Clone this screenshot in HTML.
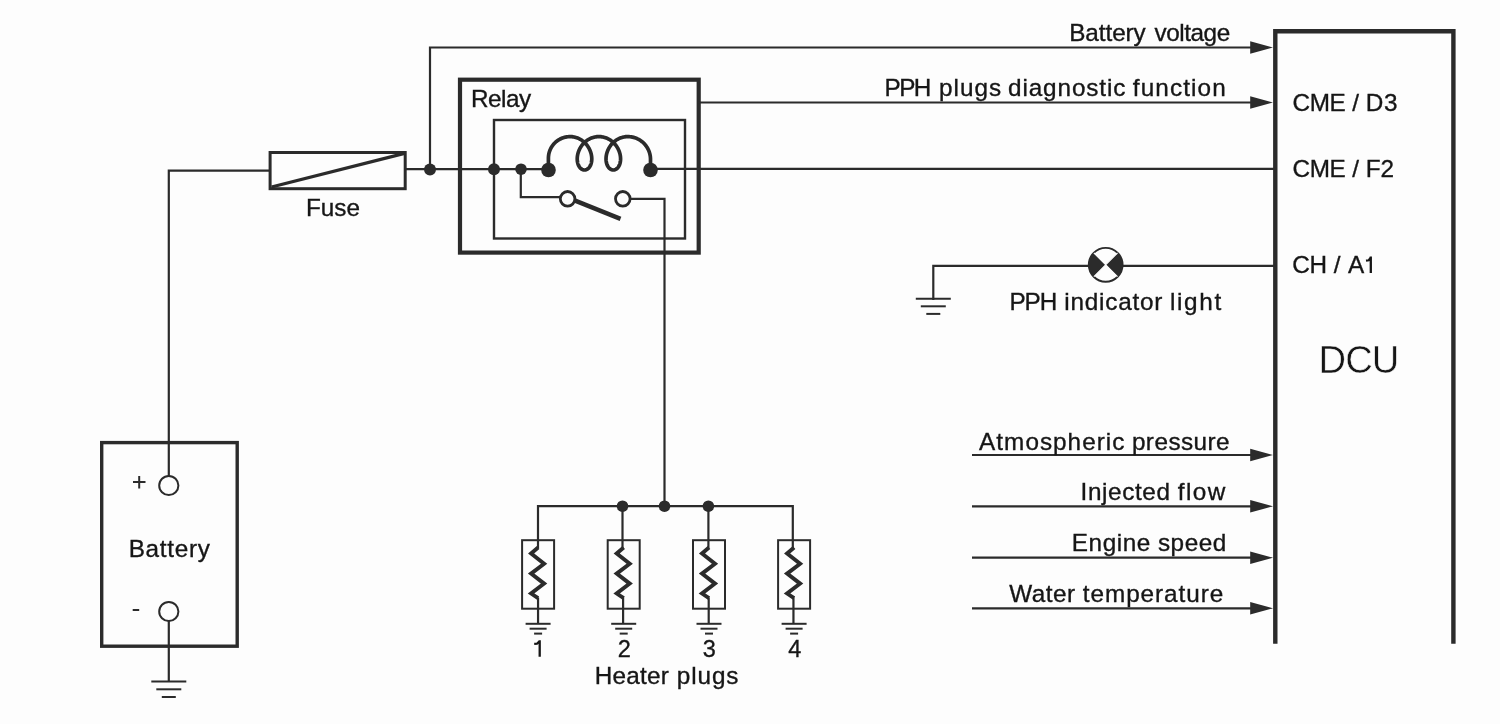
<!DOCTYPE html>
<html><head><meta charset="utf-8"><style>
html,body{margin:0;padding:0;background:#fdfdfd;}
svg{display:block;will-change:transform;}
text{font-family:"Liberation Sans",sans-serif;fill:#161616;stroke:#161616;stroke-width:0.35px;}
</style></head><body>
<svg width="1500" height="724" viewBox="0 0 1500 724">
<rect width="1500" height="724" fill="#fdfdfd"/>
<g stroke="#2b2b2b" stroke-linecap="butt">
<polyline points="168.80,476.00 168.80,170.60 270.00,170.60" fill="none" stroke-width="2.2" stroke-linejoin="miter"/>
<rect x="270.1" y="152.5" width="135.09999999999997" height="36.19999999999999" fill="none" stroke-width="3.0"/>
<line x1="271.5" y1="187.0" x2="404.5" y2="153.3" stroke-width="3.3"/>
<line x1="405.2" y1="169.2" x2="548.5" y2="169.2" stroke-width="2.2"/>
<polyline points="430.00,169.40 430.00,47.50 1251.00,47.50" fill="none" stroke-width="2.2" stroke-linejoin="miter"/>
<polygon points="1250.2,41.3 1273,47.5 1250.2,53.7" fill="#2b2b2b" stroke="none"/>
<circle cx="430" cy="169.4" r="6" fill="#2b2b2b" stroke="none"/>
<rect x="460" y="79.7" width="238.70000000000005" height="172.89999999999998" fill="none" stroke-width="4.2"/>
<rect x="494" y="120" width="191" height="118.5" fill="none" stroke-width="2.4"/>
<circle cx="494" cy="169.2" r="6.0" fill="#2b2b2b" stroke="none"/>
<circle cx="521" cy="169.2" r="5.8" fill="#2b2b2b" stroke="none"/>
<polyline points="520.80,169.00 520.80,197.20 560.00,197.20" fill="none" stroke-width="2.2" stroke-linejoin="miter"/>
<polyline points="630.00,198.80 664.50,198.80 664.50,506.00" fill="none" stroke-width="2.2" stroke-linejoin="miter"/>
<line x1="574.5" y1="200.4" x2="620.5" y2="218.8" stroke-width="4.5"/>
<circle cx="567.6" cy="198.8" r="7.3" fill="#fdfdfd" stroke-width="2.8"/>
<circle cx="622.8" cy="198.8" r="7.3" fill="#fdfdfd" stroke-width="2.8"/>
<path d="M548.40,170.00 L548.40,158.30 L548.43,157.16 L548.52,156.03 L548.67,154.90 L548.87,153.79 L549.14,152.68 L549.46,151.59 L549.84,150.52 L550.28,149.47 L550.77,148.45 L551.31,147.45 L551.90,146.48 L552.54,145.54 L553.24,144.64 L553.97,143.78 L554.76,142.96 L555.58,142.17 L556.44,141.44 L557.34,140.74 L558.28,140.10 L559.25,139.51 L560.25,138.97 L561.27,138.48 L562.32,138.04 L563.39,137.66 L564.48,137.34 L565.59,137.07 L566.70,136.87 L567.83,136.72 L568.96,136.63 L570.10,136.60 L571.06,136.62 L572.01,136.69 L572.96,136.81 L573.91,136.96 L574.84,137.17 L575.77,137.42 L576.69,137.71 L577.59,138.04 L578.48,138.42 L579.35,138.84 L580.20,139.29 L581.03,139.79 L581.84,140.32 L582.63,140.89 L583.39,141.49 L584.12,142.13 L584.83,142.79 L585.50,143.48 L586.15,144.20 L586.76,144.95 L587.35,145.72 L587.89,146.51 L588.41,147.32 L588.89,148.14 L589.33,148.98 L589.74,149.83 L590.11,150.69 L590.44,151.55 L590.74,152.43 L591.00,153.30 L591.22,154.17 L591.40,155.05 L591.55,155.91 L591.66,156.77 L591.73,157.62 L591.77,158.46 L591.77,159.28 L591.74,160.09 L591.67,160.88 L591.56,161.65 L591.43,162.40 L591.26,163.12 L591.07,163.81 L590.84,164.47 L590.59,165.11 L590.31,165.71 L590.00,166.28 L589.67,166.81 L589.32,167.31 L588.95,167.76 L588.56,168.18 L588.15,168.56 L587.73,168.89 L587.29,169.18 L586.85,169.43 L586.39,169.64 L585.92,169.79 L585.45,169.91 L584.98,169.98 L584.50,170.00 L584.02,169.98 L583.55,169.91 L583.08,169.79 L582.61,169.64 L582.15,169.43 L581.71,169.18 L581.27,168.89 L580.85,168.56 L580.44,168.18 L580.05,167.76 L579.68,167.31 L579.33,166.81 L579.00,166.28 L578.69,165.71 L578.41,165.11 L578.16,164.47 L577.93,163.81 L577.74,163.12 L577.57,162.40 L577.44,161.65 L577.33,160.88 L577.26,160.09 L577.23,159.28 L577.23,158.46 L577.27,157.62 L577.34,156.77 L577.45,155.91 L577.60,155.05 L577.78,154.17 L578.00,153.30 L578.26,152.43 L578.56,151.55 L578.89,150.69 L579.26,149.83 L579.67,148.98 L580.11,148.14 L580.59,147.32 L581.11,146.51 L581.65,145.72 L582.24,144.95 L582.85,144.20 L583.50,143.48 L584.17,142.79 L584.88,142.13 L585.61,141.49 L586.37,140.89 L587.16,140.32 L587.97,139.79 L588.80,139.29 L589.65,138.84 L590.52,138.42 L591.41,138.04 L592.31,137.71 L593.23,137.42 L594.16,137.17 L595.09,136.96 L596.04,136.81 L596.99,136.69 L597.94,136.62 L598.90,136.60 L599.86,136.62 L600.81,136.69 L601.76,136.81 L602.71,136.96 L603.65,137.17 L604.57,137.42 L605.49,137.71 L606.39,138.04 L607.28,138.42 L608.15,138.84 L609.00,139.29 L609.83,139.79 L610.64,140.32 L611.43,140.89 L612.19,141.49 L612.92,142.13 L613.63,142.79 L614.30,143.48 L614.95,144.20 L615.57,144.95 L616.15,145.72 L616.70,146.51 L617.21,147.32 L617.69,148.14 L618.13,148.98 L618.54,149.83 L618.91,150.69 L619.25,151.55 L619.54,152.43 L619.80,153.30 L620.02,154.17 L620.21,155.05 L620.35,155.91 L620.46,156.77 L620.53,157.62 L620.57,158.46 L620.57,159.28 L620.54,160.09 L620.47,160.88 L620.37,161.65 L620.23,162.40 L620.07,163.12 L619.87,163.81 L619.64,164.47 L619.39,165.11 L619.11,165.71 L618.80,166.28 L618.47,166.81 L618.12,167.31 L617.75,167.76 L617.36,168.18 L616.95,168.56 L616.53,168.89 L616.10,169.18 L615.65,169.43 L615.19,169.64 L614.73,169.79 L614.25,169.91 L613.78,169.98 L613.30,170.00 L612.83,169.98 L612.35,169.91 L611.88,169.79 L611.41,169.64 L610.96,169.43 L610.51,169.18 L610.07,168.89 L609.65,168.56 L609.24,168.18 L608.85,167.76 L608.48,167.31 L608.13,166.81 L607.80,166.28 L607.50,165.71 L607.22,165.11 L606.96,164.47 L606.74,163.81 L606.54,163.12 L606.37,162.40 L606.24,161.65 L606.14,160.88 L606.07,160.09 L606.03,159.28 L606.03,158.46 L606.07,157.62 L606.14,156.77 L606.25,155.91 L606.40,155.05 L606.58,154.17 L606.80,153.30 L607.06,152.43 L607.36,151.55 L607.69,150.69 L608.06,149.83 L608.47,148.98 L608.91,148.14 L609.39,147.32 L609.91,146.51 L610.46,145.72 L611.04,144.95 L611.65,144.20 L612.30,143.48 L612.98,142.79 L613.68,142.13 L614.42,141.49 L615.18,140.89 L615.96,140.32 L616.77,139.79 L617.60,139.29 L618.45,138.84 L619.32,138.42 L620.21,138.04 L621.11,137.71 L622.03,137.42 L622.96,137.17 L623.89,136.96 L624.84,136.81 L625.79,136.69 L626.75,136.62 L627.70,136.60 L628.90,136.63 L630.09,136.72 L631.27,136.88 L632.44,137.10 L633.60,137.38 L634.75,137.72 L635.87,138.11 L636.98,138.57 L638.05,139.08 L639.10,139.65 L640.12,140.28 L641.10,140.95 L642.05,141.68 L642.96,142.46 L643.82,143.28 L644.64,144.14 L645.42,145.05 L646.15,146.00 L646.82,146.98 L647.45,148.00 L648.02,149.05 L648.53,150.12 L648.99,151.23 L649.38,152.35 L649.72,153.50 L650.00,154.66 L650.22,155.83 L650.38,157.01 L650.47,158.20 L650.50,159.40 L650.50,170.00" fill="none" stroke-width="3.7" stroke-linejoin="round"/>
<circle cx="548.5" cy="170" r="7.3" fill="#2b2b2b" stroke="none"/>
<circle cx="650.5" cy="170" r="7.3" fill="#2b2b2b" stroke="none"/>
<line x1="650.5" y1="168.8" x2="1274" y2="168.8" stroke-width="2.2"/>
<line x1="698.7" y1="102.5" x2="1251" y2="102.5" stroke-width="2.2"/>
<polygon points="1250.2,96.3 1273,102.5 1250.2,108.7" fill="#2b2b2b" stroke="none"/>
<polyline points="1275.3,643.8 1275.3,31.3 1453.4,31.3 1453.4,643.8" fill="none" stroke-width="4.4"/>
<polyline points="933.30,300.00 933.30,265.80 1274.00,265.80" fill="none" stroke-width="2.2" stroke-linejoin="miter"/>
<line x1="915.8" y1="298.7" x2="950.8" y2="298.7" stroke-width="2"/>
<line x1="920.8" y1="306.3" x2="945.8" y2="306.3" stroke-width="2"/>
<line x1="926.3" y1="313.9" x2="940.3" y2="313.9" stroke-width="2"/>
<circle cx="1105.7" cy="264.8" r="16.9" fill="#fdfdfd" stroke-width="1.9"/>
<path d="M1105.7,264.8 L1093.89,252.99 A16.7,16.7 0 0 0 1093.89,276.61 Z M1105.7,264.8 L1117.51,252.99 A16.7,16.7 0 0 1 1117.51,276.61 Z" fill="#2b2b2b" stroke="none"/>
<path d="M1093.89,252.99 L1117.51,276.61 M1117.51,252.99 L1093.89,276.61" stroke="#fdfdfd" stroke-width="1.1"/>
<line x1="972" y1="455" x2="1251" y2="455" stroke-width="2.2"/>
<polygon points="1250.2,448.7 1273,455 1250.2,461.3" fill="#2b2b2b" stroke="none"/>
<line x1="972" y1="506.3" x2="1251" y2="506.3" stroke-width="2.2"/>
<polygon points="1250.2,500.0 1273,506.3 1250.2,512.6" fill="#2b2b2b" stroke="none"/>
<line x1="972" y1="557.7" x2="1251" y2="557.7" stroke-width="2.2"/>
<polygon points="1250.2,551.4000000000001 1273,557.7 1250.2,564.0" fill="#2b2b2b" stroke="none"/>
<line x1="972" y1="608.3" x2="1251" y2="608.3" stroke-width="2.2"/>
<polygon points="1250.2,602.0 1273,608.3 1250.2,614.5999999999999" fill="#2b2b2b" stroke="none"/>
<rect x="101.7" y="442.6" width="135.5" height="203.60000000000002" fill="none" stroke-width="3.4"/>
<circle cx="168.8" cy="485.5" r="9.6" fill="#fdfdfd" stroke-width="2.0"/>
<polyline points="168.80,621.00 168.80,681.60" fill="none" stroke-width="2.2" stroke-linejoin="miter"/>
<circle cx="168.8" cy="611.5" r="9.6" fill="#fdfdfd" stroke-width="2.0"/>
<line x1="151.3" y1="681.6" x2="186.3" y2="681.6" stroke-width="2"/>
<line x1="156.3" y1="689.3000000000001" x2="181.3" y2="689.3000000000001" stroke-width="2"/>
<line x1="161.8" y1="697.0" x2="175.8" y2="697.0" stroke-width="2"/>
<line x1="133" y1="482" x2="145.5" y2="482" stroke-width="2"/>
<line x1="139.2" y1="476" x2="139.2" y2="488.5" stroke-width="2"/>
<line x1="132.7" y1="610" x2="139.2" y2="610" stroke-width="2"/>
<polyline points="538.00,541.00 538.00,506.20 792.80,506.20 792.80,541.00" fill="none" stroke-width="2.2" stroke-linejoin="miter"/>
<rect x="522.1" y="540.2" width="32.0" height="68.5" fill="none" stroke-width="2.0"/>
<line x1="538.0" y1="540" x2="538.0" y2="548.5" stroke-width="2.2"/>
<polyline points="538.10,547.50 531.10,553.50 544.10,563.70 531.10,573.60 544.10,583.60 531.10,593.50 538.10,598.20" fill="none" stroke-width="3.9" stroke-linejoin="miter"/>
<line x1="538.05" y1="597.5" x2="538.05" y2="624" stroke-width="2.2"/>
<line x1="525.6" y1="623.8" x2="550.6" y2="623.8" stroke-width="2"/>
<line x1="529.6" y1="628.6999999999999" x2="546.6" y2="628.6999999999999" stroke-width="2"/>
<line x1="534.1" y1="633.5999999999999" x2="542.1" y2="633.5999999999999" stroke-width="2"/>
<line x1="622.5" y1="506.2" x2="622.5" y2="541" stroke-width="2.2"/>
<rect x="607.7" y="540.2" width="32.0" height="68.5" fill="none" stroke-width="2.0"/>
<line x1="622.5" y1="540" x2="622.5" y2="548.5" stroke-width="2.2"/>
<polyline points="623.70,547.50 616.70,553.50 629.70,563.70 616.70,573.60 629.70,583.60 616.70,593.50 623.70,598.20" fill="none" stroke-width="3.9" stroke-linejoin="miter"/>
<line x1="623.1" y1="597.5" x2="623.1" y2="624" stroke-width="2.2"/>
<line x1="611.2" y1="623.8" x2="636.2" y2="623.8" stroke-width="2"/>
<line x1="615.2" y1="628.6999999999999" x2="632.2" y2="628.6999999999999" stroke-width="2"/>
<line x1="619.7" y1="633.5999999999999" x2="627.7" y2="633.5999999999999" stroke-width="2"/>
<line x1="708.4" y1="506.2" x2="708.4" y2="541" stroke-width="2.2"/>
<rect x="693.0" y="540.2" width="32.0" height="68.5" fill="none" stroke-width="2.0"/>
<line x1="708.4" y1="540" x2="708.4" y2="548.5" stroke-width="2.2"/>
<polyline points="709.00,547.50 702.00,553.50 715.00,563.70 702.00,573.60 715.00,583.60 702.00,593.50 709.00,598.20" fill="none" stroke-width="3.9" stroke-linejoin="miter"/>
<line x1="708.7" y1="597.5" x2="708.7" y2="624" stroke-width="2.2"/>
<line x1="696.5" y1="623.8" x2="721.5" y2="623.8" stroke-width="2"/>
<line x1="700.5" y1="628.6999999999999" x2="717.5" y2="628.6999999999999" stroke-width="2"/>
<line x1="705.0" y1="633.5999999999999" x2="713.0" y2="633.5999999999999" stroke-width="2"/>
<rect x="778.1" y="540.2" width="32.0" height="68.5" fill="none" stroke-width="2.0"/>
<line x1="792.8" y1="540" x2="792.8" y2="548.5" stroke-width="2.2"/>
<polyline points="794.10,547.50 787.10,553.50 800.10,563.70 787.10,573.60 800.10,583.60 787.10,593.50 794.10,598.20" fill="none" stroke-width="3.9" stroke-linejoin="miter"/>
<line x1="793.45" y1="597.5" x2="793.45" y2="624" stroke-width="2.2"/>
<line x1="781.6" y1="623.8" x2="806.6" y2="623.8" stroke-width="2"/>
<line x1="785.6" y1="628.6999999999999" x2="802.6" y2="628.6999999999999" stroke-width="2"/>
<line x1="790.1" y1="633.5999999999999" x2="798.1" y2="633.5999999999999" stroke-width="2"/>
<path d="M534.2,643.9 L537.0,643.7 L539.7,641.0 M539.7,640.2 L539.7,656.8" fill="none" stroke="#161616" stroke-width="2.3"/>
<path d="M1366.0,260.7 L1368.7,260.3 L1370.8,257.3 M1370.8,256.4 L1370.8,272.9" fill="none" stroke="#161616" stroke-width="2.3"/>
<circle cx="622.5" cy="506.2" r="5.8" fill="#2b2b2b" stroke="none"/>
<circle cx="664.5" cy="506.2" r="5.8" fill="#2b2b2b" stroke="none"/>
<circle cx="708.4" cy="506.2" r="5.8" fill="#2b2b2b" stroke="none"/>
</g>
<g>
<text x="1069.2" y="41.3" font-size="24.3" textLength="76.58" lengthAdjust="spacing">Battery</text>
<text x="1154.6" y="41.3" font-size="24.3" textLength="75.56" lengthAdjust="spacing">voltage</text>
<text x="884.6" y="96" font-size="24.3" textLength="46.77" lengthAdjust="spacing">PPH</text>
<text x="939" y="96" font-size="24.3" textLength="62.09" lengthAdjust="spacing">plugs</text>
<text x="1008" y="96" font-size="24.3" textLength="117.42" lengthAdjust="spacing">diagnostic</text>
<text x="1132.8" y="96" font-size="24.3" textLength="92.91" lengthAdjust="spacing">function</text>
<text x="1292.4" y="111.1" font-size="24.3" textLength="53.4" lengthAdjust="spacing">CME</text>
<text x="1352.2" y="111.1" font-size="24.3" textLength="9.17" lengthAdjust="spacing">/</text>
<text x="1365.8" y="111.1" font-size="24.3" textLength="31.66" lengthAdjust="spacing">D3</text>
<text x="1292.4" y="176.8" font-size="24.3" textLength="53.4" lengthAdjust="spacing">CME</text>
<text x="1352.2" y="176.8" font-size="24.3" textLength="9.17" lengthAdjust="spacing">/</text>
<text x="1365.8" y="176.8" font-size="24.3" textLength="28.16" lengthAdjust="spacing">F2</text>
<text x="1292.3" y="273.3" font-size="24.3" textLength="34.69" lengthAdjust="spacing">CH</text>
<text x="1333.7" y="273.3" font-size="24.3" textLength="7.97" lengthAdjust="spacing">/</text>
<text x="1347.9" y="273.3" font-size="24.3" textLength="12.22" lengthAdjust="spacing">A</text>
<text x="1009.5" y="310.1" font-size="24.3" textLength="47.77" lengthAdjust="spacing">PPH</text>
<text x="1064.2" y="310.1" font-size="24.3" textLength="98.24" lengthAdjust="spacing">indicator</text>
<text x="1170" y="310.1" font-size="24.3" textLength="51.18" lengthAdjust="spacing">light</text>
<text x="979.1" y="449.5" font-size="24.3" textLength="145.25" lengthAdjust="spacing">Atmospheric</text>
<text x="1131.9" y="449.5" font-size="24.3" textLength="97.73" lengthAdjust="spacing">pressure</text>
<text x="1080.6" y="500.1" font-size="24.3" textLength="89.31" lengthAdjust="spacing">Injected</text>
<text x="1177.7" y="500.1" font-size="24.3" textLength="47.62" lengthAdjust="spacing">flow</text>
<text x="1071.8" y="550.9" font-size="24.3" textLength="78.46" lengthAdjust="spacing">Engine</text>
<text x="1157.9" y="550.9" font-size="24.3" textLength="68.4" lengthAdjust="spacing">speed</text>
<text x="1009.2" y="602.3" font-size="24.3" textLength="65.91" lengthAdjust="spacing">Water</text>
<text x="1082.8" y="602.3" font-size="24.3" textLength="140.4" lengthAdjust="spacing">temperature</text>
<text x="471" y="107.4" font-size="24.3" textLength="60.12" lengthAdjust="spacing">Relay</text>
<text x="306" y="216.4" font-size="24.3" textLength="54.02" lengthAdjust="spacing">Fuse</text>
<text x="128.7" y="557" font-size="24.3" textLength="81.18" lengthAdjust="spacing">Battery</text>
<text x="594.7" y="683.6" font-size="24.3" textLength="74.14" lengthAdjust="spacing">Heater</text>
<text x="676.8" y="683.6" font-size="24.3" textLength="61.69" lengthAdjust="spacing">plugs</text>
<text x="1318.6" y="372.6" font-size="38.2" textLength="80.73" lengthAdjust="spacing" style="stroke:#fdfdfd;stroke-width:0.5px">DCU</text>
<text x="624.2" y="656.7" font-size="23.5" text-anchor="middle">2</text>
<text x="709.2" y="656.7" font-size="23.5" text-anchor="middle">3</text>
<text x="794.7" y="656.7" font-size="23.5" text-anchor="middle">4</text>
</g>
</svg>
</body></html>
